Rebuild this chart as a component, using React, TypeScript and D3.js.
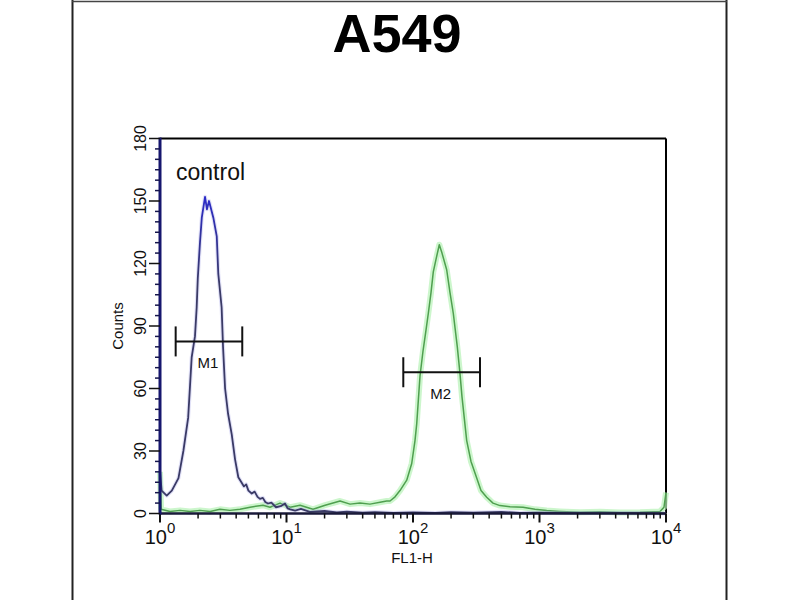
import React, { useEffect } from "react";
import * as d3 from "d3";

const title = "A549";
const controlLabel = "control";
const xAxisLabel = "FL1-H";
const yAxisLabel = "Counts";
const yTicks = [0, 30, 60, 90, 120, 150, 180];
const xTickExponents = [0, 1, 2, 3, 4];

// [FL1-H value, counts]
const controlHistogram: [number, number][] = [
  [1.0, 20], [1.03, 11], [1.13, 8.6], [1.24, 11], [1.4, 17], [1.53, 30], [1.67, 46],
  [1.78, 75], [1.89, 85], [1.95, 99], [1.99, 113], [2.07, 130], [2.14, 142], [2.27, 152],
  [2.35, 146], [2.44, 150], [2.64, 142], [2.81, 133], [2.89, 115], [3.07, 99], [3.15, 80],
  [3.27, 60], [3.45, 48], [3.69, 38], [3.92, 26], [4.16, 17.4], [4.4, 15], [4.61, 13],
  [4.8, 14], [5.0, 11], [5.31, 9.6], [5.6, 10.5], [5.9, 8], [6.17, 7], [6.5, 7.5],
  [6.8, 5.5], [7.14, 4.8], [7.6, 5.2], [8.26, 3], [9.0, 3.5], [9.73, 4.8], [10.2, 2.5],
  [10.7, 2], [11.7, 1.4], [13, 2.2], [15.3, 0.8], [20, 1.2], [25, 0.5], [30, 0.9],
  [40, 0.4], [50, 0.7], [70, 0.3], [100, 0.5], [150, 0.3], [200, 0.6], [300, 0.4],
  [500, 0.8], [700, 0.3], [1000, 0.4], [2000, 0.2], [5000, 0.2], [10000, 0],
];

const stainedHistogram: [number, number][] = [
  [1.0, 20], [1.02, 2], [1.2, 1], [1.44, 1.5], [1.73, 1], [2.07, 1.5], [2.49, 1],
  [2.98, 2], [3.57, 1.5], [4.29, 2], [5.15, 3], [6.52, 4], [7.41, 3], [8.89, 5],
  [10.7, 3], [12.8, 4], [16.2, 2], [20.2, 4], [26.5, 6], [31.8, 4.5], [38.1, 5],
  [45.7, 4.5], [54.9, 5.4], [62, 6], [65.8, 6], [72.1, 8], [78.9, 11], [89.2, 16],
  [97.7, 24], [103.7, 35], [107, 43], [113.6, 66], [120, 78], [126.7, 88], [132.1, 96],
  [138.8, 106], [144.7, 116], [152, 122], [161.4, 129], [169.5, 125], [184.6, 117],
  [196.1, 106], [208.3, 96], [224, 80], [235.3, 67], [244, 56], [265.8, 35], [287.4, 25],
  [318.9, 17], [344.8, 11], [382.4, 7.8], [429, 5], [487, 3.8], [584.7, 3.2], [740.5, 3],
  [921, 2], [1140, 1.4], [1452, 1], [2090, 0.6], [3008, 0.8], [4329, 0.5], [6231, 0.6],
  [8970, 1], [9640, 3], [10000, 10],
];

const markerNames = ["M1", "M2"];
const markerStart = [1.33, 83.8];
const markerEnd = [4.47, 338.6];
const markerLevel = [82.6, 67.8];

const FONT = "'Liberation Sans', Arial, Helvetica, sans-serif";

export default function App() {
  useEffect(() => {
    document.body.style.margin = "0";
  }, []);

  const x = d3.scaleLog().domain([1, 1e4]).range([160, 666]);
  const y = d3.scaleLinear().domain([0, 180]).range([513.5, 138.5]);
  const line = d3
    .line<[number, number]>()
    .x((d) => x(d[0]))
    .y((d) => y(d[1]));

  const yMinor = d3.range(0, 181, 5).filter((v) => v % 30 !== 0);
  const xMinor: number[] = [];
  for (let e = 0; e < 4; e++) for (let k = 2; k <= 9; k++) xMinor.push(k * Math.pow(10, e));

  const x0 = x(1);
  const x1 = x(1e4);
  const yTop = y(180);
  const yBot = y(0);

  return (
    <svg
      width={800}
      height={600}
      style={{ position: "absolute", left: 0, top: 0, background: "#fff" }}
      fontFamily={FONT}
    >
      <defs>
        <linearGradient id="blueGrad" gradientUnits="userSpaceOnUse" x1="0" y1={y(155)} x2="0" y2={y(110)}>
          <stop offset="0" stopColor="#2a2ad0" />
          <stop offset="1" stopColor="#3a3a66" />
        </linearGradient>
      </defs>
      <rect x={0} y={0} width={800} height={600} fill="#fff" />
      {/* outer frame */}
      <line x1={72.5} y1={0} x2={72.5} y2={600} stroke="#222" strokeWidth={2} />
      <line x1={726.5} y1={0} x2={726.5} y2={600} stroke="#222" strokeWidth={2} />
      <line x1={72} y1={1.5} x2={727} y2={1.5} stroke="#444" strokeWidth={1.5} />

      {/* title */}
      <text x={397} y={52} textAnchor="middle" fontSize={54} fontWeight="bold" fill="#000">
        {title}
      </text>

      {/* frame top / right */}
      <line x1={x0} y1={yTop} x2={x1} y2={yTop} stroke="#000" strokeWidth={2} />
      <line x1={x1} y1={yTop} x2={x1} y2={yBot} stroke="#000" strokeWidth={2} />

      {/* histograms */}
      <path d={line(stainedHistogram) || ""} fill="none" stroke="#b6f2b6" strokeWidth={6} strokeOpacity={0.7} strokeLinejoin="round" />
      <path d={line(stainedHistogram) || ""} fill="none" stroke="#4f9f4f" strokeWidth={1.5} strokeLinejoin="round" />
      <path d={line(controlHistogram) || ""} fill="none" stroke="#a8a8e8" strokeWidth={4} strokeOpacity={0.35} strokeLinejoin="round" />
      <path d={line(controlHistogram) || ""} fill="none" stroke="url(#blueGrad)" strokeWidth={1.8} strokeLinejoin="round" />

      {/* markers */}
      {markerNames.map((name, i) => {
        const xa = x(markerStart[i]);
        const xb = x(markerEnd[i]);
        const yl = y(markerLevel[i]);
        return (
          <g key={name} stroke="#111" strokeWidth={2}>
            <line x1={xa} y1={yl} x2={xb} y2={yl} />
            <line x1={xa} y1={yl - 15} x2={xa} y2={yl + 15} />
            <line x1={xb} y1={yl - 15} x2={xb} y2={yl + 15} />
            <text x={(xa + xb) / 2 - 1} y={yl + 27} textAnchor="middle" fontSize={15} stroke="none" fill="#111">
              {name}
            </text>
          </g>
        );
      })}

      <text x={176} y={180} fontSize={23} fill="#111">
        {controlLabel}
      </text>

      {/* bottom axis */}
      <line x1={x0} y1={yBot} x2={x1} y2={yBot} stroke="#1a1a3a" strokeWidth={2.5} />
      {xMinor.map((v) => (
        <line key={"xm" + v} x1={x(v)} y1={yBot} x2={x(v)} y2={yBot + 5} stroke="#111" strokeWidth={1.5} />
      ))}
      {xTickExponents.map((e) => (
        <g key={"xt" + e}>
          <line x1={x(Math.pow(10, e))} y1={yBot} x2={x(Math.pow(10, e))} y2={yBot + 9} stroke="#111" strokeWidth={2} />
          <text x={x(Math.pow(10, e))} y={544} textAnchor="middle" fontSize={20} fill="#111">
            10
            <tspan fontSize={15} dy={-11}>
              {String(e)}
            </tspan>
          </text>
        </g>
      ))}
      <text x={412} y={563} textAnchor="middle" fontSize={15} fill="#111">
        {xAxisLabel}
      </text>

      {/* left axis */}
      <line x1={x0} y1={yTop - 1} x2={x0} y2={yBot + 1} stroke="#16166e" strokeWidth={3} />
      {yMinor.map((v) => (
        <line key={"ym" + v} x1={x0 - 5} y1={y(v)} x2={x0} y2={y(v)} stroke="#16164e" strokeWidth={1.5} />
      ))}
      {yTicks.map((v) => (
        <g key={"yt" + v}>
          <line x1={x0 - 11} y1={y(v)} x2={x0} y2={y(v)} stroke="#111" strokeWidth={1.5} />
          <text
            transform={`translate(${146},${y(v)}) rotate(-90)`}
            textAnchor="middle"
            fontSize={16}
            fill="#111"
          >
            {String(v)}
          </text>
        </g>
      ))}
      <text transform={`translate(${123},${326}) rotate(-90)`} textAnchor="middle" fontSize={15} fill="#111">
        {yAxisLabel}
      </text>
    </svg>
  );
}
